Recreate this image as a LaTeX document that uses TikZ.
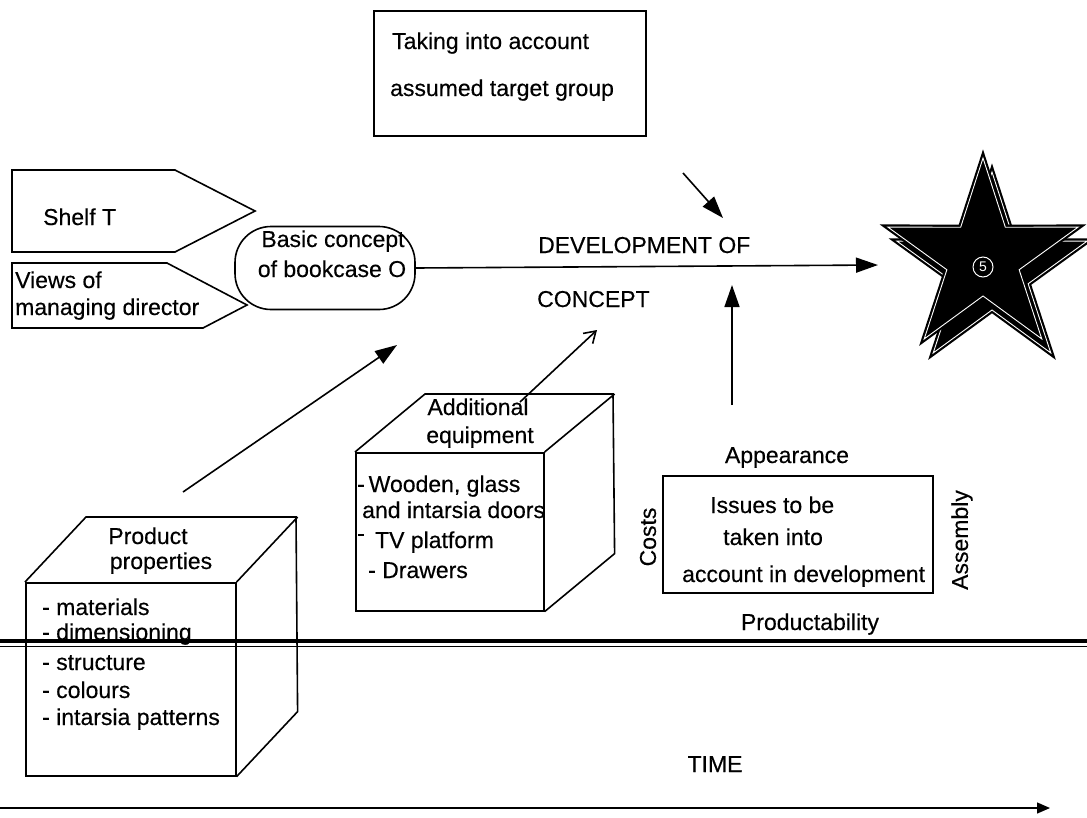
\documentclass[tikz,border=0pt]{standalone}
\usepackage{fontspec}
\setmainfont{Liberation Sans}
\newfontfamily\inkfont{Liberation Sans}[FakeBold=0.35]
\usetikzlibrary{arrows.meta,calc}
\begin{document}
\begin{tikzpicture}[x=1pt,y=-1pt,
  every node/.style={font=\inkfont\fontsize{23}{27}\selectfont, inner sep=0pt},
  frame/.style={draw, line width=1.6pt},
  facebox/.style={frame, anchor=north west},
  lbl/.style={anchor=base west},
  ctr/.style={anchor=base},
  solidtip/.style={-{Triangle[length=22pt,width=15pt]}, line width=1.6pt},
  opentip/.style={-{Straight Barb[length=11pt,width=14pt,line width=1.6pt]}, line width=1.6pt},
  timetip/.style={-{Triangle[length=13pt,width=11pt]}, line width=1.4pt},
  starface/.style={fill=black, draw=black, line width=2.2pt, double=white, double distance=0.9pt, line join=miter}
]
\useasboundingbox (0,0) rectangle (1087,817);

% --- target group box ---
\node[facebox, minimum width=272pt, minimum height=125pt] (target) at (373,10) {};
\node[lbl] (targetA) at (392,49) {Taking into account};
\node[lbl] (targetB) at (390,96) {assumed target group};

% --- inputs on the left ---
\draw[frame, line join=miter] (12,170) -- (175,170) -- (255,211) -- (175,252) -- (12,252) -- cycle;
\node[lbl] (shelf) at (43,225) {Shelf T};
\draw[frame, line join=miter] (12,263) -- (167,263) -- (247,305) -- (203,328) -- (12,328) -- cycle;
\node[lbl] (viewsA) at (15,288) {Views of};
\node[lbl] (viewsB) at (15,315) {managing director};

% --- basic concept ---
\node[frame, rounded corners=36pt, minimum width=180pt, minimum height=83pt] (basic) at (325,268) {};
\node[ctr] (basicA) at (333,247) {Basic concept};
\node[ctr] (basicB) at (332,277) {of bookcase O};

% --- development ---
\node[lbl] (devA) at (538,253) {DEVELOPMENT OF};
\node[lbl] (devB) at (537,307) {CONCEPT};

% --- star (goal) with its shadow ---
\begin{scope}[shift={(992,272)}]
  \path[starface] (90:100pt) -- (126:38pt) -- (162:100pt) -- (198:38pt) -- (234:100pt) -- (270:38pt) -- (306:100pt) -- (342:38pt) -- (18:100pt) -- (54:38pt) -- cycle;
\end{scope}
\begin{scope}[shift={(983,258)}]
  \path[starface] (90:100pt) -- (126:38pt) -- (162:100pt) -- (198:38pt) -- (234:100pt) -- (270:38pt) -- (306:100pt) -- (342:38pt) -- (18:100pt) -- (54:38pt) -- cycle;
\end{scope}
\node[circle, draw=white, line width=1pt, text=white, minimum size=20pt, font=\fontsize{14}{14}\selectfont] (five) at (983,267) {5};
\coordinate (goal) at (878,265);

% --- product properties cube ---
\node[facebox, minimum width=210pt, minimum height=193pt] (props) at (25,582) {};
\draw[frame, line join=miter] (props.north west) -- ++(61,-65) -- ++(210,0) -- ($(props.south east)+(61,-65)$) -- (props.south east);
\draw[frame] (props.north east) -- ++(61,-65);
\node[ctr] (propsA) at (148,544) {Product};
\node[ctr] (propsB) at (161,569) {properties};
\node[lbl] (p1) at (42,615) {- materials};
\node[lbl] (p2) at (42,640) {- dimensioning};
\node[lbl] (p3) at (42,670) {- structure};
\node[lbl] (p4) at (42,698) {- colours};
\node[lbl] (p5) at (42,725) {- intarsia patterns};

% --- additional equipment cube ---
\node[facebox, minimum width=188pt, minimum height=158pt] (equip) at (355,452) {};
\draw[frame, line join=miter] (equip.north west) -- ++(70,-58) -- ++(188,0) -- ($(equip.south east)+(70,-58)$) -- (equip.south east);
\draw[frame] (equip.north east) -- ++(70,-58);
\node[ctr] (equipA) at (478,415) {Additional};
\node[ctr] (equipB) at (480,443) {equipment};
\node[lbl] (e1) at (357,492) {-\,Wooden, glass};
\node[lbl] (e2) at (362,518) {and intarsia doors};
\node[lbl] (e3) at (357,548) {\raisebox{0.3em}{-}\, TV platform};
\node[lbl] (e4) at (368,578) {- Drawers};

% --- issues box ---
\node[facebox, minimum width=270pt, minimum height=117pt] (issues) at (662,475) {};
\node[lbl] (iA) at (710,513) {Issues to be};
\node[lbl] (iB) at (723,545) {taken into};
\node[lbl] (iC) at (682,582) {account in development};
\node[ctr] (appear) at (787,463) {Appearance};
\node[ctr] (product) at (810,630) {Productability};
\node[rotate=90] (costs) at (648,537) {Costs};
\node[rotate=90] (assembly) at (962,540) {Assembly};

% --- connectors ---
\coordinate (tgtail) at (683,173);
\coordinate (tghead) at (723,218);
\draw[solidtip] (tgtail) -- (tghead);
\draw[solidtip] (basic.east) -- (goal);
\coordinate (pptail) at (183,492);
\coordinate (pphead) at (397,345);
\draw[solidtip] (pptail) -- (pphead);
\coordinate (eqtail) at (520,402);
\coordinate (eqhead) at (597,330);
\draw[opentip] (eqtail) -- (eqhead);
\coordinate (istail) at (732,405);
\coordinate (ishead) at (732,285);
\draw[solidtip] (istail) -- (ishead);

% --- present-day divider ---
\coordinate (divL) at (0,641);
\coordinate (divR) at (1087,641);
\draw[line width=4pt] (divL) -- (divR);
\draw[line width=1pt] ($(divL)+(0,5.5)$) -- ($(divR)+(0,5.5)$);

% --- time axis ---
\node[ctr] (time) at (715,772) {TIME};
\coordinate (timeL) at (0,808);
\coordinate (timeR) at (1050,808);
\draw[timetip] (timeL) -- (timeR);
\end{tikzpicture}
\end{document}
